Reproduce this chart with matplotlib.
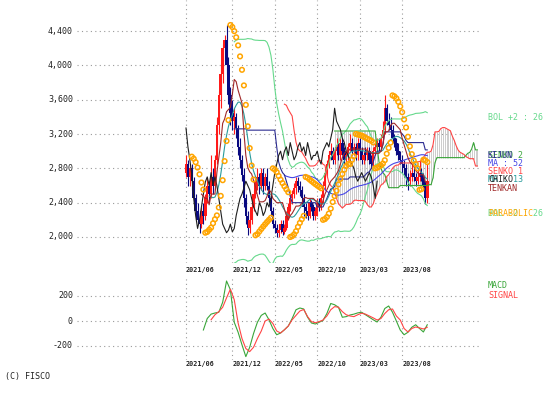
import numpy as np
import pandas as pd
import matplotlib
matplotlib.use("Agg")
import matplotlib.pyplot as plt

# ---------------- data (weekly OHLC) ----------------
opens = [2750, 2850, 2700, 2800, 2650, 2450, 2300, 2200, 2150, 2300,
         2250, 2450, 2600, 2500, 2700, 2600, 2900, 3300, 3650, 3900,
         4200, 4300, 4000, 3650, 3450, 3350, 3400, 3270, 3050, 2900,
         2720, 2450, 2250, 2100, 2200, 2350, 2500, 2640, 2700, 2600,
         2750, 2600, 2700, 2600, 2450, 2300, 2150, 2100, 2050, 2080,
         2150, 2060, 2100, 2250, 2350, 2450, 2500, 2570, 2650, 2600,
         2550, 2450, 2350, 2300, 2250, 2400, 2350, 2250, 2300, 2400,
         2350, 2450, 2600, 2750, 2850, 2950, 3000, 2900, 3000, 3050,
         2950, 3100, 3000, 2900, 2950, 3050, 3100, 3000, 3050, 2950,
         3100, 3000, 2900, 2980, 2950, 3000, 2900, 2850, 3000, 3050,
         3100, 3050, 3150, 3250, 3500, 3350, 3300, 3250, 3150, 3100,
         3000, 2950, 2900, 2850, 2800, 2700, 2650, 2700, 2750, 2700,
         2650, 2700, 2750, 2700, 2600, 2450]
highs = [2950, 2900, 2850, 2850, 2700, 2500, 2400, 2300, 2350, 2400,
         2500, 2700, 2650, 2950, 2800, 2950, 3400, 3700, 4000, 4250,
         4350, 4470, 4100, 3750, 3600, 3500, 3450, 3300, 3150, 2950,
         2800, 2500, 2300, 2300, 2400, 2550, 2700, 2800, 2750, 2800,
         2800, 2750, 2800, 2650, 2500, 2350, 2200, 2150, 2150, 2200,
         2200, 2150, 2300, 2400, 2500, 2550, 2630, 2700, 2700, 2650,
         2600, 2500, 2400, 2350, 2450, 2430, 2380, 2350, 2450, 2450,
         2500, 2650, 2800, 2900, 3000, 3100, 3050, 3050, 3150, 3100,
         3150, 3150, 3050, 3000, 3100, 3200, 3150, 3100, 3100, 3150,
         3150, 3050, 3000, 3050, 3050, 3050, 2950, 3050, 3100, 3150,
         3150, 3200, 3350, 3650, 3550, 3450, 3400, 3300, 3200, 3150,
         3100, 3000, 2950, 2900, 2850, 2750, 2780, 2850, 2800, 2750,
         2800, 2900, 2800, 2750, 2650, 2850]
lows = [2700, 2600, 2600, 2550, 2400, 2250, 2150, 2050, 2100, 2150,
        2200, 2400, 2400, 2450, 2500, 2550, 2850, 3200, 3500, 3800,
        4050, 3900, 3550, 3300, 3250, 3200, 3150, 2950, 2800, 2650,
        2350, 2150, 2020, 2050, 2150, 2300, 2450, 2550, 2500, 2550,
        2500, 2550, 2550, 2400, 2250, 2100, 2050, 2000, 2000, 2050,
        2020, 2030, 2080, 2200, 2300, 2380, 2450, 2500, 2520, 2480,
        2400, 2250, 2220, 2200, 2220, 2300, 2200, 2200, 2250, 2300,
        2320, 2400, 2550, 2700, 2800, 2900, 2850, 2850, 2950, 2900,
        2900, 2950, 2850, 2850, 2900, 3000, 2950, 2950, 2900, 2900,
        2950, 2850, 2850, 2900, 2900, 2850, 2800, 2820, 2950, 3000,
        3000, 3000, 3100, 3200, 3300, 3250, 3200, 3100, 3050, 2950,
        2900, 2850, 2750, 2700, 2600, 2550, 2600, 2650, 2650, 2600,
        2620, 2650, 2650, 2550, 2380, 2400]
closes = [2850, 2700, 2800, 2650, 2450, 2300, 2200, 2150, 2300, 2250,
          2450, 2600, 2500, 2700, 2600, 2900, 3300, 3650, 3900, 4200,
          4300, 4000, 3650, 3450, 3350, 3400, 3270, 3050, 2900, 2720,
          2450, 2250, 2100, 2200, 2350, 2500, 2640, 2700, 2600, 2750,
          2600, 2700, 2600, 2450, 2300, 2150, 2100, 2050, 2080, 2150,
          2060, 2100, 2250, 2350, 2450, 2500, 2570, 2650, 2600, 2550,
          2450, 2350, 2300, 2250, 2400, 2350, 2250, 2300, 2400, 2350,
          2450, 2600, 2750, 2850, 2950, 3000, 2900, 3000, 3050, 2950,
          3100, 3000, 2900, 2950, 3050, 3100, 3000, 3050, 2950, 3100,
          3000, 2900, 2950, 2950, 3000, 2900, 2850, 3000, 3050, 3100,
          3050, 3150, 3250, 3500, 3350, 3300, 3250, 3150, 3100, 3000,
          2950, 2900, 2850, 2800, 2700, 2650, 2700, 2750, 2700, 2650,
          2700, 2750, 2700, 2600, 2450, 2650]

# MACD / signal, every second week
macd_weeks = list(range(9, 126, 2))
macd_vals = [-72, 20, 55, 64, 70, 150, 320, 250, -10, -90,
             -190, -285, -210, -100, -10, 45, 64, 10, -60, -110,
             -96, -70, -40, 20, 90, 104, 96, 30, -16, -24,
             -10, 5, 60, 140, 130, 110, 30, 35, 48, 55,
             65, 70, 50, 30, 10, -8, 30, 100, 120, 70,
             0, -72, -110, -90, -50, -30, -60, -88, -30]
signal_weeks = list(range(13, 126, 2))
signal_vals = [10, 50, 75, 110, 185, 255, 170, -16, -140, -220,
               -245, -210, -140, -80, 0, 15, -20, -80, -96, -70,
               -40, 10, 45, 80, 92, 35, -5, -14, -5, 8,
               40, 90, 115, 110, 75, 50, 40, 35, 50, 62,
               55, 40, 25, 8, 20, 60, 90, 96, 40, 8,
               -60, -88, -60, -48, -55, -64, -50]

price_ticks = [2000, 2400, 2800, 3200, 3600, 4000, 4400]
macd_ticks = [-200, 0, 200]
date_labels = ["2021/06", "2021/12", "2022/05", "2022/10", "2023/03", "2023/08"]
date_bars = [0, 24, 46, 68, 90, 112]

# ---------------- indicators ----------------
df = pd.DataFrame({"o": opens, "h": highs, "l": lows, "c": closes}, dtype=float)
n = len(df)
idx = np.arange(n)
c = df["c"]
ma13 = c.rolling(13).mean()
ma52 = c.rolling(52).mean()
mid26 = c.rolling(26).mean()
sd26 = c.rolling(26).std(ddof=0)
bol_up = mid26 + 2 * sd26
bol_dn = mid26 - 2 * sd26
tenkan = (df["h"].rolling(9).max() + df["l"].rolling(9).min()) / 2
kijun = (df["h"].rolling(26).max() + df["l"].rolling(26).min()) / 2
senko1 = (tenkan + kijun) / 2
senko2 = (df["h"].rolling(52).max() + df["l"].rolling(52).min()) / 2

# parabolic SAR
hi = df["h"].values; lo = df["l"].values
sar = np.zeros(n)
bull = False; af = 0.02; ep = lo[0]; sar[0] = hi[0]
for i in range(1, n):
    s = sar[i - 1] + af * (ep - sar[i - 1])
    if bull:
        s = min(s, lo[i - 1], lo[max(i - 2, 0)])
        if lo[i] < s:
            bull = False; s = ep; ep = lo[i]; af = 0.02
        elif hi[i] > ep:
            ep = hi[i]; af = min(af + 0.02, 0.2)
    else:
        s = max(s, hi[i - 1], hi[max(i - 2, 0)])
        if hi[i] > s:
            bull = True; s = ep; ep = hi[i]; af = 0.02
        elif lo[i] < ep:
            ep = lo[i]; af = min(af + 0.02, 0.2)
    sar[i] = s

# ---------------- layout (pixel mapping) ----------------
W, H = 559, 393
fig = plt.figure(figsize=(W / 100, H / 100), dpi=100)
plt.rcParams["font.family"] = ["DejaVu Sans Mono"]
FS = 6

PX0, PX1 = 77, 480
BAR0, BARW = 186, 1.93
xlim = ((PX0 - BAR0) / BARW, (PX1 - BAR0) / BARW)

def vmain(py):
    return 2000 + (237 - py) * 400 / 34.33

def vmacd(py):
    return (321 - py) * 8.0

TOP_M, BOT_M = 0, 263
ax = fig.add_axes([PX0 / W, 1 - BOT_M / H, (PX1 - PX0) / W, (BOT_M - TOP_M) / H])
ax.set_xlim(*xlim)
ax.set_ylim(vmain(BOT_M), vmain(TOP_M))
ax.axis("off")

TOP_D, BOT_D = 277, 360
axm = fig.add_axes([PX0 / W, 1 - BOT_D / H, (PX1 - PX0) / W, (BOT_D - TOP_D) / H])
axm.set_xlim(*xlim)
axm.set_ylim(vmacd(BOT_D), vmacd(TOP_D))
axm.axis("off")

gridc = "#9a9a9a"
dot = (0, (1, 3))
for a, ticks in ((ax, price_ticks), (axm, macd_ticks)):
    for v in ticks:
        a.axhline(v, color=gridc, ls=dot, lw=0.8, zorder=0)
    for b in date_bars:
        a.axvline(b, color=gridc, ls=dot, lw=0.8, zorder=0)

for v in price_ticks:
    ax.text(-4 / (PX1 - PX0), v, f"{v:,}", transform=ax.get_yaxis_transform(),
            ha="right", va="center", fontsize=FS, color="#222222")
for v in macd_ticks:
    axm.text(-4 / (PX1 - PX0), v, f"{v}", transform=axm.get_yaxis_transform(),
             ha="right", va="center", fontsize=FS, color="#222222")
for b, lab in zip(date_bars, date_labels):
    ax.text(b, vmain(270), lab, ha="left", va="center", fontsize=4.9,
            color="#222222", clip_on=False, fontweight="bold")
    axm.text(b, vmacd(364), lab, ha="left", va="center", fontsize=4.9,
             color="#222222", clip_on=False, fontweight="bold")

# cloud
cx = idx + 26
valid = ~(senko1.isna() | senko2.isna())
ax.vlines(cx[valid], np.minimum(senko1[valid], senko2[valid]),
          np.maximum(senko1[valid], senko2[valid]), colors="#c4c4c4", lw=0.6, zorder=1)

# candles
up = df["c"] >= df["o"]
ccol = np.where(up, "#ff1a1a", "#0a0a80")
ax.vlines(idx, df["l"], df["h"], colors=ccol, lw=0.8, zorder=3)
ax.bar(idx, (df["c"] - df["o"]).abs().clip(lower=8), bottom=np.minimum(df["o"], df["c"]),
       width=1.3, color=ccol, linewidth=0, zorder=3)

lw = 0.8
ax.plot(idx, bol_up, color="#66d98c", lw=lw, zorder=4)
ax.plot(idx, bol_dn, color="#66d98c", lw=lw, zorder=4)
ax.plot(cx, senko2, color="#3aa63a", lw=lw, zorder=4)
ax.plot(cx, senko1, color="#ff4545", lw=lw, zorder=4)
ax.plot(idx, ma52, color="#4646e6", lw=lw, zorder=4)
ax.plot(idx, kijun, color="#2a2a90", lw=lw, zorder=4)
ax.plot(idx, ma13, color="#2a9c9c", lw=lw, zorder=4)
ax.plot(idx[26:] - 26, c[26:], color="#1e1e1e", lw=lw, zorder=4)
ax.plot(idx, tenkan, color="#a02828", lw=lw, zorder=4)
ax.scatter(idx[3:], sar[3:], s=11, facecolors="none", edgecolors="#ffa500",
           linewidths=1.1, zorder=5)

# MACD
axm.plot(macd_weeks, macd_vals, color="#3aa63a", lw=lw)
axm.plot(signal_weeks, signal_vals, color="#ff4545", lw=lw)

# legends
def lg(y, s, col):
    fig.text(488 / W, 1 - y / H, s, color=col, fontsize=FS, ha="left", va="center")

lg(118, "BOL +2 : 26", "#66d98c")
lg(156, "SENKO 2", "#3aa63a")
lg(156, "KIJUN", "#2a2a90")
lg(164, "MA : 52", "#4646e6")
lg(172, "SENKO 1", "#ff4545")
lg(180, "MA : 13", "#2a9c9c")
lg(180, "CHIKO", "#1e1e1e")
lg(188, "TENKAN", "#a02828")
lg(214, "BOL -2 : 26", "#66d98c")
lg(214, "PARABOLIC", "#ffa500")
lg(285, "MACD", "#3aa63a")
lg(296, "SIGNAL", "#ff4545")
fig.text(5 / W, 1 - 377 / H, "(C) FISCO", fontsize=FS, color="#222222", ha="left", va="center")

fig.savefig("out.png", dpi=100)
